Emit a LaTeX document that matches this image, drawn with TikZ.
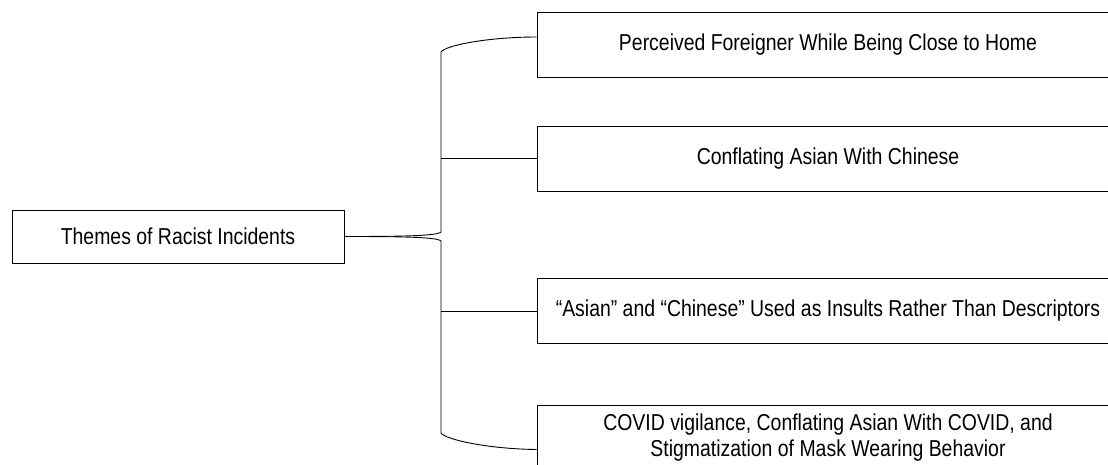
\documentclass[tikz,border=0pt]{standalone}
\usepackage{fontspec}
\setmainfont{Liberation Sans}[FakeStretch=0.845]
\begin{document}
\begin{tikzpicture}[x=1pt,y=-1pt,line width=0.9pt,
  themebox/.style={draw, minimum width=582pt, minimum height=65pt, inner sep=0pt,
    align=center, font=\fontsize{23}{26}\selectfont}]
  \useasboundingbox (0,0) rectangle (1108,465);
  \clip (0,0) rectangle (1108,465);

  \node[themebox, minimum width=332pt, minimum height=53pt] (root) at (178,236.5) {Themes of Racist Incidents};

  \node[themebox] (b1) at (828,44.5) {Perceived Foreigner While Being Close to Home};
  \node[themebox] (b2) at (828,158.5) {Conflating Asian With Chinese};
  \node[themebox] (b3) at (828,311) {“Asian” and “Chinese” Used as Insults Rather Than Descriptors};
  \node[themebox] (b4) at (828,437.5) {COVID vigilance, Conflating Asian With COVID, and\\Stigmatization of Mask Wearing Behavior};

  \coordinate (spine) at (441,0);

  % upper half of the bracket
  \draw (root.east) .. controls (400,236.5) and (437,236) .. (441,232) -- (441,52)
     .. controls (446,45) and (490,37) .. ([yshift=7.5pt]b1.west);
  % lower half
  \draw (root.east) .. controls (400,236.5) and (437,237) .. (441,241) -- (441,433)
     .. controls (446,440) and (490,449) .. ([yshift=-12pt]b4.west);

  \draw (b2.west) -- (b2.west -| spine);
  \draw (b3.west) -- (b3.west -| spine);
\end{tikzpicture}
\end{document}
